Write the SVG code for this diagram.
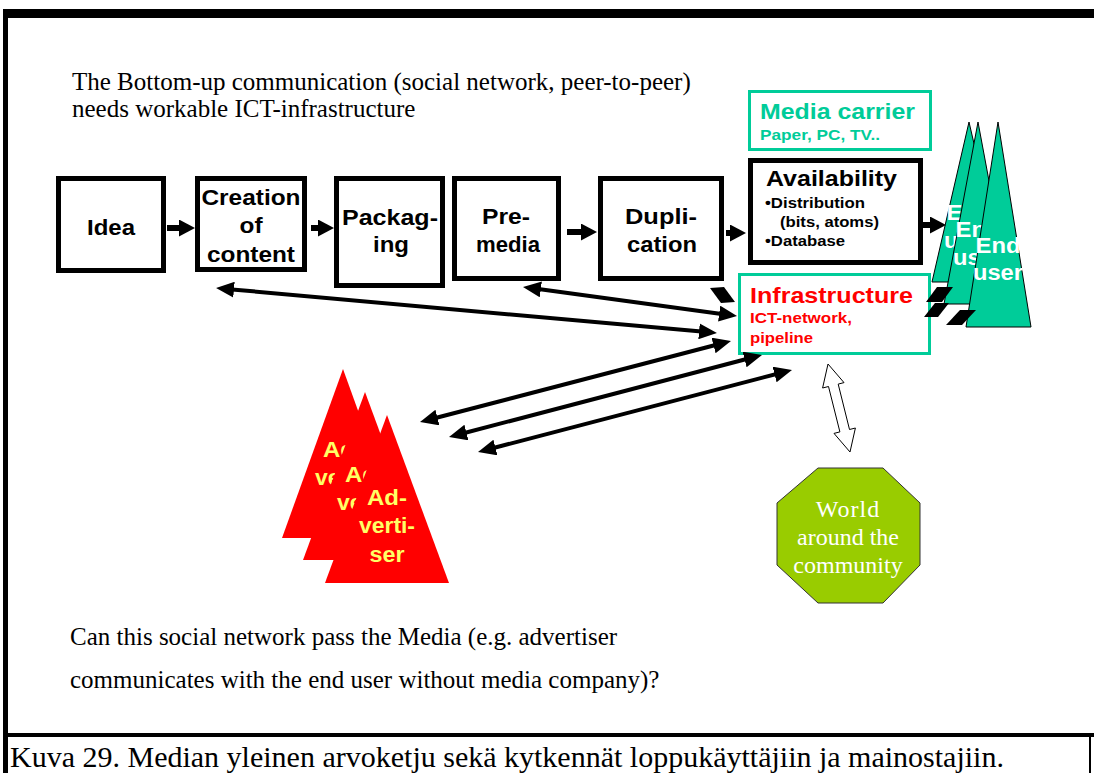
<svg xmlns="http://www.w3.org/2000/svg" width="1094" height="773" viewBox="0 0 1094 773">
  <defs>
    <style>
      .box { fill: #fff; stroke: #000; stroke-width: 5; }
      .teal { fill: #fff; stroke: #00CC99; stroke-width: 3; }
      .sans { font-family: "Liberation Sans", Arial, sans-serif; font-weight: bold; }
      .serif { font-family: "Liberation Serif", "Times New Roman", serif; }
      .mid { text-anchor: middle; }
      .big { font-size: 22px; }
      .small { font-size: 15px; }
      .enduser { fill: #00CC99; stroke: #000; stroke-width: 1; }
      .advert { fill: #FF0000; }
      .eutext { fill: #fff; }
      .adtext { fill: #FFFF66; }
      .conn { stroke: #000; stroke-width: 4; fill: none; }
      .chain { stroke: #000; stroke-width: 6; fill: none; }
      .stub { fill: #000; }
    </style>
    <!-- filled arrowhead for the long two-way links; tip sits 10px past the line end -->
    <marker id="head" viewBox="0 0 18 16" refX="8" refY="8" markerWidth="18" markerHeight="16" markerUnits="userSpaceOnUse" orient="auto-start-reverse">
      <path d="M0,0 L18,8 L0,16 z" fill="#000"/>
    </marker>
    <!-- arrowhead for the value-chain steps -->
    <marker id="step" viewBox="0 0 16 17" refX="6" refY="8.5" markerWidth="16" markerHeight="17" markerUnits="userSpaceOnUse" orient="auto">
      <path d="M0,0 L16,8.5 L0,17 z" fill="#000"/>
    </marker>
  </defs>

  <rect width="1094" height="773" fill="#fff"/>

  <!-- page frame -->
  <g id="frame" fill="#000">
    <rect x="3" y="9" width="1091" height="9"/>
    <rect x="3" y="9" width="5" height="764"/>
    <rect x="3" y="733" width="1091" height="4"/>
    <rect x="1089" y="735" width="2" height="38"/>
  </g>

  <!-- headline -->
  <g id="headline" class="serif" font-size="25" fill="#000">
    <text x="72" y="90">The Bottom-up communication (social network, peer-to-peer)</text>
    <text x="72" y="117">needs workable ICT-infrastructure</text>
  </g>

  <!-- value chain -->
  <g id="idea">
    <rect class="box" x="58.5" y="178.5" width="105" height="92"/>
    <text class="sans big mid" x="111" y="235" textLength="48" lengthAdjust="spacingAndGlyphs">Idea</text>
  </g>
  <g id="creation">
    <rect class="box" x="197.5" y="178.5" width="107" height="91"/>
    <text class="sans big mid" x="251" y="205" textLength="99" lengthAdjust="spacingAndGlyphs">Creation</text>
    <text class="sans big mid" x="251" y="233" textLength="23" lengthAdjust="spacingAndGlyphs">of</text>
    <text class="sans big mid" x="251" y="262" textLength="88" lengthAdjust="spacingAndGlyphs">content</text>
  </g>
  <g id="packaging">
    <rect class="box" x="336.5" y="178.5" width="106" height="107"/>
    <text class="sans big mid" x="390" y="225" textLength="96" lengthAdjust="spacingAndGlyphs">Packag-</text>
    <text class="sans big mid" x="391" y="252" textLength="36" lengthAdjust="spacingAndGlyphs">ing</text>
  </g>
  <g id="premedia">
    <rect class="box" x="454.5" y="178.5" width="104" height="100"/>
    <text class="sans big mid" x="506" y="224" textLength="48" lengthAdjust="spacingAndGlyphs">Pre-</text>
    <text class="sans big mid" x="508" y="252" textLength="64" lengthAdjust="spacingAndGlyphs">media</text>
  </g>
  <g id="duplication">
    <rect class="box" x="600.5" y="178.5" width="121" height="100"/>
    <text class="sans big mid" x="661" y="224" textLength="72" lengthAdjust="spacingAndGlyphs">Dupli-</text>
    <text class="sans big mid" x="662" y="252" textLength="70" lengthAdjust="spacingAndGlyphs">cation</text>
  </g>
  <g id="media-carrier">
    <rect class="teal" x="749.5" y="91.5" width="181" height="58"/>
    <text class="sans big" x="760" y="119" fill="#00CC99" textLength="155" lengthAdjust="spacingAndGlyphs">Media carrier</text>
    <text class="sans" x="760" y="140" font-size="14" fill="#00CC99" textLength="120" lengthAdjust="spacingAndGlyphs">Paper, PC, TV..</text>
  </g>
  <g id="availability">
    <rect class="box" x="750.5" y="160.5" width="170" height="102"/>
    <text class="sans big" x="766" y="186" textLength="131" lengthAdjust="spacingAndGlyphs">Availability</text>
    <text class="sans small" x="765" y="208" textLength="100" lengthAdjust="spacingAndGlyphs">•Distribution</text>
    <text class="sans small" x="780" y="227" textLength="99" lengthAdjust="spacingAndGlyphs">(bits, atoms)</text>
    <text class="sans small" x="765" y="246" textLength="80" lengthAdjust="spacingAndGlyphs">•Database</text>
  </g>
  <g id="infrastructure">
    <rect class="teal" x="739.5" y="274.5" width="190" height="79"/>
    <text class="sans big" x="750" y="303" fill="#FF0000" textLength="163" lengthAdjust="spacingAndGlyphs">Infrastructure</text>
    <text class="sans small" x="750" y="323" fill="#FF0000" textLength="102" lengthAdjust="spacingAndGlyphs">ICT-network,</text>
    <text class="sans small" x="750" y="343" fill="#FF0000" textLength="63" lengthAdjust="spacingAndGlyphs">pipeline</text>
  </g>

  <!-- end users, stacked -->
  <g id="end-user-1">
    <polygon class="enduser" points="969,122 1006,282 932,282"/>
    <text class="sans big mid eutext" x="969" y="220" textLength="45" lengthAdjust="spacingAndGlyphs">End</text>
    <text class="sans big mid eutext" x="969" y="248" textLength="50" lengthAdjust="spacingAndGlyphs">user</text>
  </g>
  <g id="end-user-2">
    <polygon class="enduser" points="978,122 1012,304 944,304"/>
    <text class="sans big mid eutext" x="978" y="237" textLength="45" lengthAdjust="spacingAndGlyphs">End</text>
    <text class="sans big mid eutext" x="978" y="265" textLength="50" lengthAdjust="spacingAndGlyphs">user</text>
  </g>
  <g id="end-user-3">
    <polygon class="enduser" points="998,122 1031,327 966,327"/>
    <text class="sans big mid eutext" x="998" y="253" textLength="45" lengthAdjust="spacingAndGlyphs">End</text>
    <text class="sans big mid eutext" x="998" y="280" textLength="50" lengthAdjust="spacingAndGlyphs">user</text>
  </g>

  <!-- advertisers, stacked -->
  <g id="advertiser-1">
    <polygon class="advert" points="343,369 404,538 282,538"/>
    <text class="sans big mid adtext" x="343" y="457" textLength="40" lengthAdjust="spacingAndGlyphs">Ad-</text>
    <text class="sans big mid adtext" x="343" y="485" textLength="56" lengthAdjust="spacingAndGlyphs">verti-</text>
    <text class="sans big mid adtext" x="343" y="513" textLength="35" lengthAdjust="spacingAndGlyphs">ser</text>
  </g>
  <g id="advertiser-2">
    <polygon class="advert" points="365,392 427,560 303,560"/>
    <text class="sans big mid adtext" x="365" y="482" textLength="40" lengthAdjust="spacingAndGlyphs">Ad-</text>
    <text class="sans big mid adtext" x="365" y="510" textLength="56" lengthAdjust="spacingAndGlyphs">verti-</text>
    <text class="sans big mid adtext" x="365" y="538" textLength="35" lengthAdjust="spacingAndGlyphs">ser</text>
  </g>
  <g id="advertiser-3">
    <polygon class="advert" points="387,415 449,583 325,583"/>
    <text class="sans big mid adtext" x="387" y="505" textLength="40" lengthAdjust="spacingAndGlyphs">Ad-</text>
    <text class="sans big mid adtext" x="387" y="533" textLength="56" lengthAdjust="spacingAndGlyphs">verti-</text>
    <text class="sans big mid adtext" x="387" y="562" textLength="35" lengthAdjust="spacingAndGlyphs">ser</text>
  </g>

  <!-- surrounding world -->
  <g id="world">
    <polygon points="818,468 883,468 920,503 920,565 883,603 818,603 777,565 777,503" fill="#99CC00" stroke="#333" stroke-width="1"/>
    <text class="serif mid" x="848" y="517" font-size="24" fill="#fff" letter-spacing="1">World</text>
    <text class="serif mid" x="848" y="545" font-size="24" fill="#fff">around the</text>
    <text class="serif mid" x="848" y="573" font-size="24" fill="#fff">community</text>
  </g>

  <!-- connectors -->
  <g id="connectors">
    <line class="chain" x1="167" y1="228" x2="185" y2="228" marker-end="url(#step)"/>
    <line class="chain" x1="311" y1="228" x2="324" y2="228" marker-end="url(#step)"/>
    <line class="chain" x1="567" y1="232" x2="587" y2="232" marker-end="url(#step)"/>
    <line class="chain" x1="726" y1="233" x2="736" y2="233" marker-end="url(#step)"/>
    <line class="chain" x1="923" y1="225" x2="936" y2="225" marker-end="url(#step)"/>

    <line class="conn" x1="226" y1="288.9" x2="707" y2="332.1" marker-start="url(#head)" marker-end="url(#head)"/>
    <line class="conn" x1="532.9" y1="288.3" x2="727.1" y2="314.7" marker-start="url(#head)" marker-end="url(#head)"/>
    <line class="conn" x1="429.7" y1="419.5" x2="721.3" y2="343.5" marker-start="url(#head)" marker-end="url(#head)"/>
    <line class="conn" x1="458.7" y1="434.5" x2="752.3" y2="357.5" marker-start="url(#head)" marker-end="url(#head)"/>
    <line class="conn" x1="487.7" y1="449.5" x2="782.3" y2="372.5" marker-start="url(#head)" marker-end="url(#head)"/>

    <!-- very short two-way links whose heads merge into a single slanted block -->
    <polygon class="stub" points="710,288 724,287 735,302 721,303"/>
    <polygon class="stub" points="937,287 953,287 942,302 926,302"/>
    <polygon class="stub" points="935,303 949,303 938,317 924,317"/>
    <polygon class="stub" points="960,310 976,310 962,325 946,325"/>

    <!-- hollow two-way link to the world -->
    <polygon points="828,364 844,382.6 838.2,384.1 849.5,429.5 855.4,428 850,452 834,433.4 839.9,431.9 828.5,386.5 822.6,388" fill="#fff" stroke="#000" stroke-width="1"/>
  </g>

  <!-- closing question -->
  <g id="question" class="serif" font-size="25" fill="#000">
    <text x="70" y="645">Can this social network pass the Media (e.g. advertiser</text>
    <text x="70" y="688">communicates with the end user without media company)?</text>
  </g>

  <text id="caption" class="serif" x="10" y="767" font-size="30" fill="#000">Kuva 29. Median yleinen arvoketju sekä kytkennät loppukäyttäjiin ja mainostajiin.</text>
</svg>
